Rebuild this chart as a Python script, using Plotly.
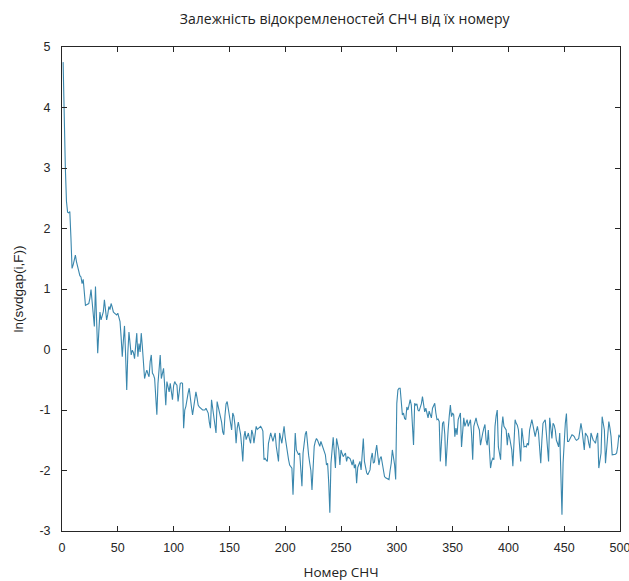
import plotly.graph_objects as go

title_text = "Залежність відокремленостей СНЧ від їх номеру"
x_title = "Номер СНЧ"
y_title = "ln(svdgap(i,F))"
x_ticks = [0, 50, 100, 150, 200, 250, 300, 350, 400, 450, 500]
y_ticks = [-3, -2, -1, 0, 1, 2, 3, 4, 5]

svdgap_ln = [
    4.75, 3.70, 3.00, 2.45, 2.27, 2.26, 2.28, 1.85, 1.34, 1.40,
    1.48, 1.56, 1.45, 1.38, 1.28, 1.22, 1.20, 1.09, 1.16, 0.90,
    0.73, 0.74, 0.75, 0.76, 0.85, 0.99, 0.79, 0.60, 0.38, 1.04,
    0.50, -0.06, 0.30, 0.62, 0.49, 0.55, 0.62, 0.82, 0.60, 0.49,
    0.58, 0.71, 0.66, 0.76, 0.70, 0.62, 0.60, 0.58, 0.57, 0.60,
    0.52, 0.46, 0.20, -0.12, 0.15, 0.39, -0.10, -0.67, -0.05, 0.29,
    0.10, -0.09, -0.01, -0.05, -0.15, 0.05, 0.27, -0.12, 0.10, -0.04,
    0.27, 0.05, -0.20, -0.48, -0.40, -0.34, -0.40, -0.45, -0.20, -0.09,
    -0.39, -0.42, -0.48, -0.80, -1.08, -0.56, -0.30, -0.09, -0.48, -0.40,
    -0.31, -0.60, -0.92, -0.53, -0.60, -0.70, -0.56, -0.68, -0.83, -0.60,
    -0.53, -0.57, -0.59, -0.86, -0.65, -0.56, -0.55, -0.56, -1.30, -1.00,
    -0.94, -0.81, -0.72, -0.64, -0.83, -0.95, -1.08, -0.97, -0.85, -0.70,
    -0.80, -0.92, -0.95, -0.97, -0.98, -1.00, -1.00, -1.00, -0.97, -1.00,
    -1.05, -1.20, -1.30, -0.83, -0.95, -1.08, -1.25, -1.38, -0.86, -0.95,
    -1.03, -1.08, -1.20, -1.36, -1.41, -1.10, -0.90, -0.86, -0.97, -1.15,
    -1.20, -1.33, -1.05, -1.10, -1.25, -1.55, -1.30, -1.20, -1.30, -1.40,
    -1.60, -1.85, -1.45, -1.35, -1.49, -1.42, -1.38, -1.48, -1.55, -1.33,
    -1.40, -1.55, -1.40, -1.27, -1.32, -1.30, -1.28, -1.27, -1.30, -1.35,
    -1.82, -1.80, -1.83, -1.85, -1.55, -1.45, -1.38, -1.45, -1.52, -1.45,
    -1.38, -1.60, -1.75, -1.85, -1.38, -1.45, -1.55, -1.40, -1.27, -1.45,
    -1.60, -1.77, -1.82, -1.91, -1.93, -1.96, -2.40, -1.70, -1.38, -1.66,
    -1.70, -1.74, -1.71, -1.95, -2.26, -1.71, -1.55, -1.40, -1.35, -1.60,
    -1.75, -1.88, -2.00, -2.32, -1.90, -1.60, -1.52, -1.47, -1.50, -1.55,
    -1.60, -1.52, -1.58, -1.66, -1.70, -1.74, -1.91, -1.88, -2.20, -2.70,
    -1.88, -1.60, -1.45, -1.70, -1.96, -1.47, -1.60, -1.66, -1.91, -1.66,
    -1.72, -1.77, -1.74, -1.71, -1.85, -1.77, -1.79, -1.80, -1.85, -1.91,
    -1.82, -1.96, -1.90, -2.21, -1.95, -1.88, -1.85, -1.99, -1.70, -1.47,
    -1.85, -1.95, -2.04, -2.07, -2.02, -1.99, -1.80, -1.71, -1.88, -1.86,
    -1.69, -1.58, -1.75, -1.91, -1.80, -1.77, -1.88, -2.02, -2.10, -2.12,
    -2.13, -2.14, -2.15, -2.00, -1.88, -1.66, -1.77, -1.90, -2.15, -0.89,
    -0.67, -0.64, -0.64, -0.86, -1.08, -1.05, -1.14, -1.16, -0.95, -1.00,
    -0.90, -0.83, -0.92, -1.20, -1.58, -0.89, -0.92, -0.90, -1.00, -1.02,
    -0.95, -0.90, -0.78, -0.95, -1.03, -0.97, -1.05, -1.13, -1.02, -1.08,
    -1.13, -0.97, -0.92, -0.89, -1.05, -1.16, -1.15, -1.19, -1.85, -1.40,
    -1.22, -1.19, -1.40, -1.93, -1.50, -1.33, -1.10, -0.92, -1.11, -1.05,
    -1.08, -1.44, -1.30, -1.41, -1.16, -1.10, -1.05, -1.61, -1.30, -1.13,
    -1.27, -1.20, -1.16, -1.27, -1.20, -1.16, -1.40, -1.82, -1.27, -1.20,
    -1.13, -1.22, -1.30, -1.33, -1.58, -1.45, -1.38, -1.30, -1.24, -1.50,
    -1.58, -1.33, -1.60, -1.96, -1.85, -1.80, -1.82, -1.27, -1.10, -1.00,
    -1.61, -1.70, -1.82, -1.30, -1.11, -1.27, -1.30, -1.33, -1.58, -1.38,
    -1.45, -1.55, -1.66, -1.93, -1.50, -1.16, -1.22, -1.25, -1.33, -1.60,
    -1.85, -1.30, -1.45, -1.61, -1.60, -1.61, -1.55, -1.58, -1.33, -1.25,
    -1.16, -1.25, -1.33, -1.44, -1.35, -1.27, -1.38, -1.60, -1.88, -1.50,
    -1.22, -1.19, -1.16, -1.38, -1.60, -1.85, -1.13, -1.30, -1.47, -1.22,
    -1.25, -1.33, -1.50, -1.55, -1.61, -1.38, -1.90, -2.73, -1.88, -1.40,
    -1.22, -1.06, -1.52, -1.52, -1.48, -1.45, -1.41, -1.42, -1.44, -1.48,
    -1.50, -1.49, -1.47, -1.35, -1.22, -1.33, -1.50, -1.66, -1.38, -1.42,
    -1.44, -1.55, -1.63, -1.38, -1.45, -1.50, -1.52, -1.55, -1.45, -1.38,
    -1.96, -1.80, -1.71, -1.11, -1.25, -1.33, -1.88, -1.60, -1.50, -1.19,
    -1.30, -1.44, -1.74, -1.74, -1.74, -1.73, -1.71, -1.60, -1.41, -1.45,
]
sv_index = list(range(1, len(svdgap_ln) + 1))

axis_color = "#262626"
line_color = "#3a87ad"
tick_family = "Liberation Sans"

fig = go.Figure()
fig.add_trace(go.Scatter(
    x=sv_index, y=svdgap_ln, mode="lines",
    line=dict(color=line_color, width=1.1),
    showlegend=False, hoverinfo="skip",
))

common_axis = dict(
    showline=True, linecolor=axis_color, linewidth=1, mirror="ticks",
    ticks="inside", ticklen=5, tickcolor=axis_color, tickwidth=1,
    showgrid=False, zeroline=False, ticklabeloverflow="allow", automargin=False,
    tickfont=dict(family=tick_family, size=12.5, color=axis_color),
)

fig.update_layout(
    width=629, height=581,
    margin=dict(l=62, r=9, t=47, b=50, autoexpand=False),
    paper_bgcolor="white", plot_bgcolor="white",
    title=dict(
        text=title_text, x=0.548, xanchor="center", y=1 - 19 / 581, yanchor="middle",
        font=dict(family="Open Sans", size=14, color="#222222"),
    ),
    xaxis=dict(
        range=[0, 500], tickvals=x_ticks, ticktext=[str(v) for v in x_ticks],
        ticklabelstandoff=5,
        title=dict(text=x_title, standoff=17,
                   font=dict(family="Open Sans", size=13.5, color="#222222")),
        **common_axis,
    ),
    yaxis=dict(
        range=[-3, 5], tickvals=y_ticks, ticktext=[str(v) for v in y_ticks],
        ticklabelstandoff=8,
        title=dict(text=y_title, standoff=12,
                   font=dict(family=tick_family, size=13.5, color="#222222")),
        **common_axis,
    ),
)

fig.write_html("out.html")
